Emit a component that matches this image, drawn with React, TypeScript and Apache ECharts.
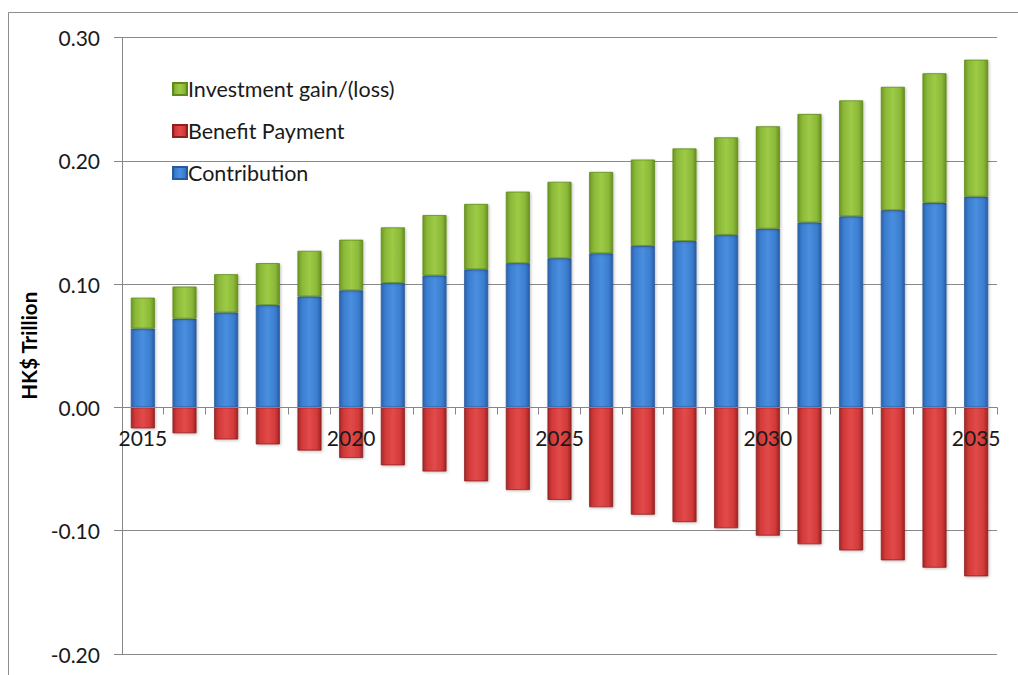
import React, { useEffect, useRef } from "react";
import * as echarts from "echarts";

const years = ["2015","2016","2017","2018","2019","2020","2021","2022","2023","2024","2025","2026","2027","2028","2029","2030","2031","2032","2033","2034","2035"];
const contribution = [0.064, 0.072, 0.077, 0.083, 0.090, 0.095, 0.101, 0.107, 0.112, 0.117, 0.121, 0.125, 0.131, 0.135, 0.140, 0.145, 0.150, 0.155, 0.160, 0.166, 0.171];
const investment = [0.025, 0.026, 0.031, 0.034, 0.037, 0.041, 0.045, 0.049, 0.053, 0.058, 0.062, 0.066, 0.070, 0.075, 0.079, 0.083, 0.088, 0.094, 0.100, 0.105, 0.111];
const benefit = [-0.017, -0.021, -0.026, -0.030, -0.035, -0.041, -0.047, -0.052, -0.060, -0.067, -0.075, -0.081, -0.087, -0.093, -0.098, -0.104, -0.111, -0.116, -0.124, -0.130, -0.137];

const FONT = "Lato, 'DejaVu Sans', sans-serif";

function grad(c: string[]) {
  return new echarts.graphic.LinearGradient(0, 0, 1, 0, [
    { offset: 0, color: c[0] },
    { offset: 0.18, color: c[1] },
    { offset: 0.5, color: c[2] },
    { offset: 0.82, color: c[1] },
    { offset: 1, color: c[3] },
  ]);
}

export default function App() {
  const ref = useRef<HTMLDivElement>(null);
  useEffect(() => {
    if (!ref.current) return;
    const chart = echarts.init(ref.current, undefined, { renderer: "svg" });
    const blue = grad(["#2c62ae", "#3b7ecf", "#4a8ee0", "#2a5da6"]);
    const red = grad(["#a52727", "#d33a3a", "#e24a4a", "#9e2424"]);
    const green = grad(["#6e9822", "#8bb838", "#9dcb46", "#689020"]);
    const shadow = { shadowBlur: 3, shadowColor: "rgba(0,0,0,0.25)", shadowOffsetX: 1, shadowOffsetY: 1 };
    chart.setOption({
      animation: false,
      backgroundColor: "#ffffff",
      textStyle: { fontFamily: FONT },
      graphic: [
        {
          type: "rect",
          shape: { x: 8.5, y: 12.5, width: 1030, height: 700 },
          style: { fill: "none", stroke: "#8c8c8c", lineWidth: 1 },
          silent: true,
          z: -10,
        },
      ],
      grid: { left: 122, right: 21, top: 37.5, bottom: 21, containLabel: false, outerBoundsMode: "none" },
      legend: {
        orient: "vertical",
        left: 167,
        top: 73,
        itemGap: 20,
        itemWidth: 14,
        itemHeight: 12,
        icon: "rect",
        data: ["Investment gain/(loss)", "Benefit Payment", "Contribution"],
        textStyle: { fontFamily: FONT, fontSize: 21.5, color: "#1a1a1a", padding: [0, 0, 0, -4] },
      },
      xAxis: {
        type: "category",
        data: years,
        boundaryGap: true,
        position: "bottom",
        offset: -246.5,
        axisLine: { onZero: false, lineStyle: { color: "#868686", width: 1 } },
        axisTick: { show: true, interval: 0, length: 7, lineStyle: { color: "#868686" } },
        axisLabel: { interval: 4, margin: 19, fontSize: 21, color: "#1a1a1a", fontFamily: FONT },
        splitLine: { show: false },
        z: 5,
      },
      yAxis: {
        type: "value",
        min: -0.2,
        max: 0.3,
        interval: 0.1,
        name: "HK$ Trillion",
        nameLocation: "middle",
        nameGap: 82,
        nameRotate: 90,
        nameTextStyle: { fontFamily: FONT, fontSize: 20.5, fontWeight: "bold", color: "#000" },
        axisLine: { show: true, lineStyle: { color: "#868686" } },
        axisTick: { show: true, length: 8, lineStyle: { color: "#868686" } },
        axisLabel: { margin: 22, fontSize: 21, color: "#1a1a1a", fontFamily: FONT, formatter: (v: number) => v.toFixed(2) },
        splitLine: { show: true, lineStyle: { color: "#8a8a8a", width: 1 } },
      },
      series: [
        {
          name: "Contribution",
          type: "bar",
          stack: "total",
          barWidth: 24,
          data: contribution,
          itemStyle: { color: blue, borderColor: "#2a5a9e", borderWidth: 0.8, ...shadow },
        },
        {
          name: "Investment gain/(loss)",
          type: "bar",
          stack: "total",
          barWidth: 24,
          data: investment,
          itemStyle: { color: green, borderColor: "#5f8a1c", borderWidth: 0.8, ...shadow },
        },
        {
          name: "Benefit Payment",
          type: "bar",
          stack: "total",
          barWidth: 24,
          data: benefit,
          itemStyle: { color: red, borderColor: "#8e2020", borderWidth: 0.8, ...shadow },
        },
      ],
    });
    return () => chart.dispose();
  }, []);
  return (
    <div
      ref={ref}
      style={{ position: "absolute", left: 0, top: 0, width: 1018, height: 675 }}
    />
  );
}
